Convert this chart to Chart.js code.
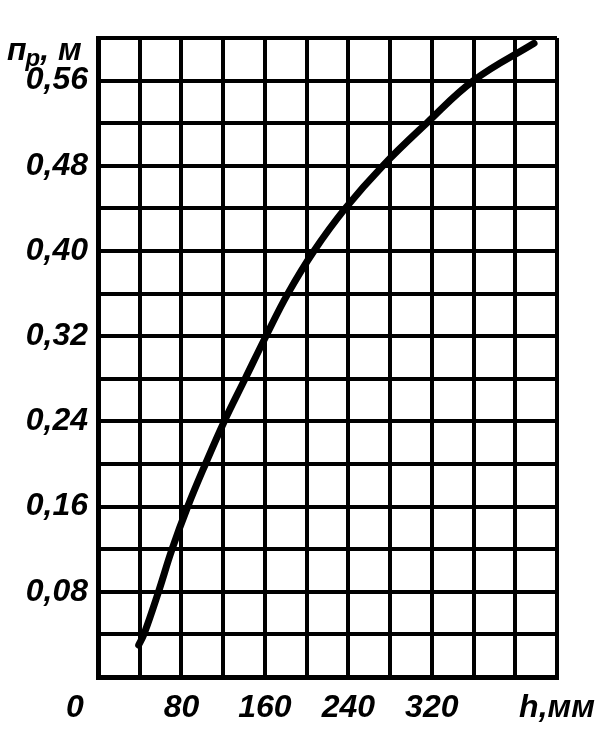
<!DOCTYPE html>
<html>
<head>
<meta charset="utf-8">
<script src="https://cdn.jsdelivr.net/npm/chart.js@4/dist/chart.umd.min.js"></script>
<style>
html, body { margin: 0; padding: 0; background: #fff; }
#chart { display: block; }
</style>
</head>
<body>
<canvas id="chart" width="616" height="740"></canvas>
<script>
// h, мм
var hValues = [39, 44, 58, 71, 86, 103, 121, 141, 161, 182, 207, 237, 273, 315, 360, 418];
// пр, м
var npValues = [0.03, 0.04, 0.08, 0.12, 0.16, 0.20, 0.24, 0.28, 0.32, 0.36, 0.40, 0.44, 0.48, 0.52, 0.56, 0.595];

var xLabels = [80, 160, 240, 320];
var xUnitLabel = 'h,мм';
var yLabels = [0.08, 0.16, 0.24, 0.32, 0.40, 0.48, 0.56];
var originLabel = '0';

var FONT_FAMILY = '"Liberation Sans", Arial, sans-serif';
var tickFont = { family: FONT_FAMILY, size: 32, style: 'italic', weight: 'bold' };

var points = [];
for (var i = 0; i < hValues.length; i++) {
    points.push({ x: hValues[i], y: npValues[i] });
}

// origin "0" and the y axis name sit outside the normal tick places
var extraText = {
    id: 'extraText',
    afterDraw: function(chart) {
        var ctx = chart.ctx;
        var area = chart.chartArea;
        ctx.save();
        ctx.fillStyle = '#000';
        ctx.textBaseline = 'alphabetic';
        ctx.font = 'italic bold 32px ' + FONT_FAMILY;
        ctx.textAlign = 'center';
        ctx.fillText(originLabel, area.left - 23, area.bottom + 40);

        ctx.textAlign = 'left';
        ctx.font = 'italic bold 32px ' + FONT_FAMILY;
        ctx.fillText('п', 7, 60);
        var w = ctx.measureText('п').width;
        ctx.font = 'italic bold 24px ' + FONT_FAMILY;
        ctx.fillText('р', 6 + w, 66);
        var w2 = ctx.measureText('р').width;
        ctx.font = 'italic bold 32px ' + FONT_FAMILY;
        ctx.fillText(', м', 6 + w + w2, 60);
        ctx.restore();
    }
};

new Chart(document.getElementById('chart'), {
    type: 'scatter',
    data: {
        datasets: [{
            data: points,
            showLine: true,
            borderColor: '#000',
            borderWidth: 7,
            borderCapStyle: 'round',
            pointRadius: 0,
            tension: 0.4
        }]
    },
    options: {
        responsive: false,
        animation: false,
        layout: { padding: { top: 38, right: 59, left: 0, bottom: 0 } },
        plugins: { legend: { display: false }, tooltip: { enabled: false } },
        scales: {
            x: {
                type: 'linear',
                min: 0,
                max: 440,
                afterFit: function(scale) { scale.height = 63; },
                grid: { color: '#000', lineWidth: 4, drawTicks: false },
                border: { color: '#000', width: 5 },
                ticks: {
                    stepSize: 40,
                    padding: 12,
                    autoSkip: false,
                    maxRotation: 0,
                    color: '#000',
                    font: tickFont,
                    callback: function(v) {
                        if (v === 440) return xUnitLabel;
                        if (xLabels.indexOf(v) !== -1) return String(v);
                        return '';
                    }
                }
            },
            y: {
                type: 'linear',
                min: 0,
                max: 0.6,
                afterFit: function(scale) { scale.width = 98; },
                grid: { color: '#000', lineWidth: 4, drawTicks: false },
                border: { color: '#000', width: 5 },
                ticks: {
                    stepSize: 0.04,
                    padding: 10,
                    autoSkip: false,
                    color: '#000',
                    font: tickFont,
                    callback: function(v) {
                        for (var k = 0; k < yLabels.length; k++) {
                            if (Math.abs(v - yLabels[k]) < 0.001) {
                                return yLabels[k].toFixed(2).replace('.', ',');
                            }
                        }
                        return '';
                    }
                }
            }
        }
    },
    plugins: [extraText]
});
</script>
</body>
</html>
